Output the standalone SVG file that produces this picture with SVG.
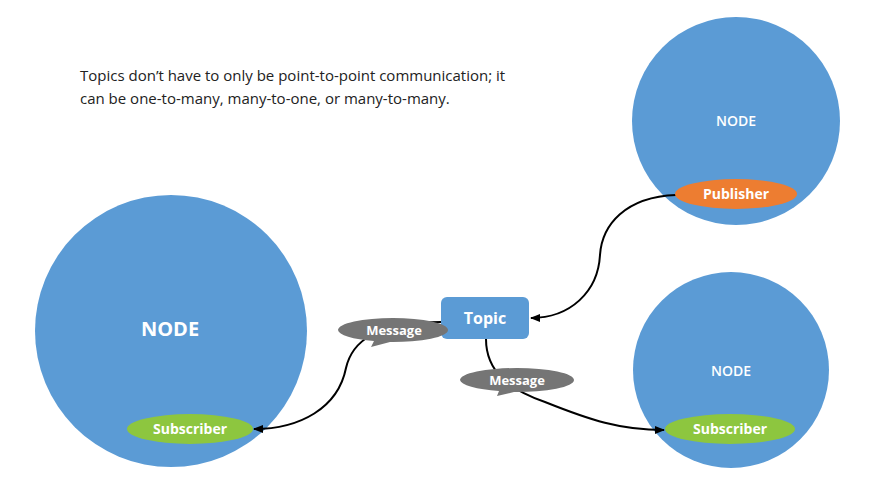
<svg xmlns="http://www.w3.org/2000/svg" width="894" height="503" viewBox="0 0 894 503">
<defs>
<style>
.node{fill:#5B9BD5}
.lbl{font-family:"Open Sans","Liberation Sans",sans-serif;fill:#fff;text-anchor:middle}
.b{font-weight:bold}
.sb{font-weight:600}
.pub{fill:#ED7D31}
.sub{fill:#8DC63F}
.msg{fill:#757575}
.conn{fill:none;stroke:#000;stroke-width:2}
.cap{font-family:"Open Sans","Liberation Sans",sans-serif;font-size:15px;fill:#222}
</style>
<marker id="arr" markerWidth="10" markerHeight="8" refX="9" refY="4" orient="auto" markerUnits="userSpaceOnUse">
<path d="M0,0 L10,4 L0,8 z" fill="#000"/>
</marker>
</defs>
<rect width="894" height="503" fill="#fff"/>
<text class="cap" x="80" y="81">Topics don’t have to only be point-to-point communication; it</text>
<text class="cap" x="80" y="104">can be one-to-many, many-to-one, or many-to-many.</text>

<g id="node-left">
<circle class="node" cx="171" cy="331" r="136"/>
<text class="lbl b" x="170" y="336" font-size="20">NODE</text>
</g>
<g id="node-top-right">
<circle class="node" cx="736" cy="121" r="104"/>
<text class="lbl sb" x="736" y="126" font-size="14">NODE</text>
</g>
<g id="node-bottom-right">
<circle class="node" cx="731" cy="370" r="98"/>
<text class="lbl sb" x="731" y="376" font-size="14">NODE</text>
</g>

<g id="connectors">
<path class="conn" d="M676 195 C625 197 602 225 600 255 C598 292 570 318 531 318" marker-end="url(#arr)"/>
<path class="conn" d="M441 322 C375 322 352 342 346 368 C338 408 300 429 254 429" marker-end="url(#arr)"/>
<path class="conn" d="M486 339 C486 372 510 390 545 402 C590 420 620 430 664 430" marker-end="url(#arr)"/>
</g>

<g id="publisher">
<ellipse class="pub" cx="736" cy="194" rx="61" ry="15"/>
<text class="lbl b" x="736" y="199" font-size="14">Publisher</text>
</g>
<g id="subscriber-left">
<ellipse class="sub" cx="190" cy="429" rx="63" ry="15"/>
<text class="lbl b" x="190" y="434" font-size="14">Subscriber</text>
</g>
<g id="subscriber-right">
<ellipse class="sub" cx="730" cy="429" rx="65" ry="15"/>
<text class="lbl b" x="730" y="434" font-size="14">Subscriber</text>
</g>

<g id="topic">
<rect class="node" x="441" y="297" width="88" height="42" rx="6"/>
<text class="lbl b" x="485" y="324" font-size="16">Topic</text>
</g>

<g id="message-left">
<path class="msg" d="M338 330 A55 12 0 0 1 448 330 A55 12 0 0 1 390 342 L371 347 L374 341 A55 12 0 0 1 338 330 Z"/>
<text class="lbl b" x="394" y="335" font-size="13">Message</text>
</g>
<g id="message-right">
<path class="msg" d="M460 380 A57 12 0 0 1 574 380 A57 12 0 0 1 514 392 L497 396 L499 391 A57 12 0 0 1 460 380 Z"/>
<text class="lbl b" x="517" y="385" font-size="13">Message</text>
</g>
</svg>
